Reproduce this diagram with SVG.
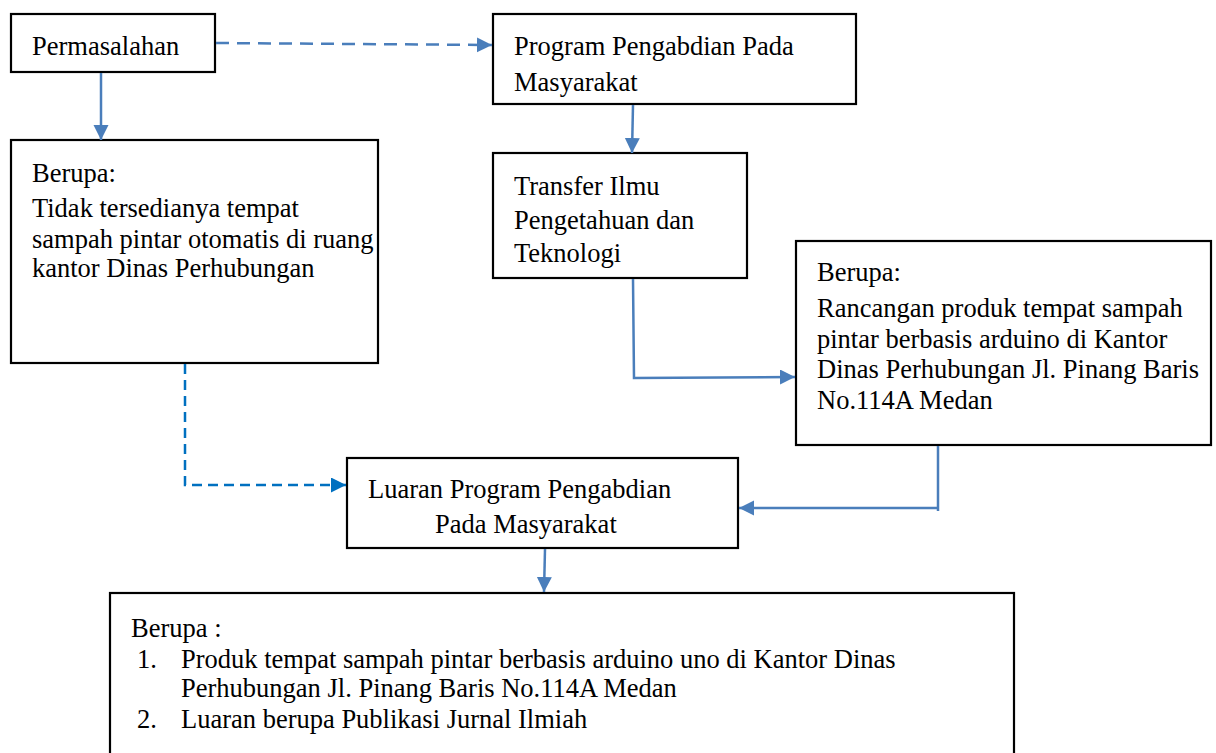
<svg xmlns="http://www.w3.org/2000/svg" width="1216" height="753" viewBox="0 0 1216 753">
<style>
.box{fill:#fff;stroke:#000;stroke-width:2.2}
.t{font-family:"Liberation Serif","Times New Roman",serif;font-size:26.5px;fill:#000}
.c{fill:none;stroke:#4A7EBB;stroke-width:2.5}
.d1{fill:none;stroke:#4A7EBB;stroke-width:2.5;stroke-dasharray:13 8}
.d2{fill:none;stroke:#0070C0;stroke-width:2.5;stroke-dasharray:10 6}
</style>
<defs>
<marker id="a" markerUnits="userSpaceOnUse" markerWidth="16" markerHeight="16" refX="15" refY="7.5" orient="auto"><path d="M0,0 L15,7.5 L0,15 Z" fill="#4A7EBB"/></marker>
<marker id="b" markerUnits="userSpaceOnUse" markerWidth="16" markerHeight="16" refX="15" refY="7.5" orient="auto"><path d="M0,0 L15,7.5 L0,15 Z" fill="#0070C0"/></marker>
</defs>
<rect width="1216" height="753" fill="#fff"/>
<g id="n1"><rect class="box" x="11" y="14" width="204" height="58"/><text class="t" x="32" y="55">Permasalahan</text></g>
<g id="n2"><rect class="box" x="493" y="14" width="363" height="90"/><text class="t" x="514" y="55">Program Pengabdian Pada</text><text class="t" x="514" y="91">Masyarakat</text></g>
<g id="n3"><rect class="box" x="11" y="140" width="367" height="223"/><text class="t" x="32" y="182">Berupa:</text><text class="t" x="32" y="217">Tidak tersedianya tempat</text><text class="t" x="32" y="248">sampah pintar otomatis di ruang</text><text class="t" x="32" y="277">kantor Dinas Perhubungan</text></g>
<g id="n4"><rect class="box" x="493" y="153" width="254" height="125"/><text class="t" x="514" y="195">Transfer Ilmu</text><text class="t" x="514" y="229">Pengetahuan dan</text><text class="t" x="514" y="262">Teknologi</text></g>
<g id="n5"><rect class="box" x="796" y="241" width="415" height="204"/><text class="t" x="817" y="281">Berupa:</text><text class="t" x="817" y="317">Rancangan produk tempat sampah</text><text class="t" x="817" y="348">pintar berbasis arduino di Kantor</text><text class="t" x="817" y="378">Dinas Perhubungan Jl. Pinang Baris</text><text class="t" x="817" y="409">No.114A Medan</text></g>
<g id="n6"><rect class="box" x="347" y="458" width="391" height="90"/><text class="t" x="368" y="498">Luaran Program Pengabdian</text><text class="t" x="435" y="533">Pada Masyarakat</text></g>
<g id="n7"><rect class="box" x="110" y="593" width="904" height="170"/><text class="t" x="131" y="637">Berupa :</text><text class="t" x="137" y="668">1.</text><text class="t" x="181" y="668">Produk tempat sampah pintar berbasis arduino uno di Kantor Dinas</text><text class="t" x="181" y="697">Perhubungan Jl. Pinang Baris No.114A Medan</text><text class="t" x="137" y="728">2.</text><text class="t" x="181" y="728">Luaran berupa Publikasi Jurnal Ilmiah</text></g>
<g id="connectors">
<path class="d1" d="M216,43 L492,45" marker-end="url(#a)"/>
<path class="c" d="M101,73 L101,140" marker-end="url(#a)"/>
<path class="c" d="M633,105 L632,153" marker-end="url(#a)"/>
<path class="c" d="M633,279 L634,378 L795,377" marker-end="url(#a)"/>
<path class="c" d="M938,446 L938,511"/>
<path class="c" d="M939,508 L739,508" marker-end="url(#a)"/>
<path class="c" d="M545,549 L544,592" marker-end="url(#a)"/>
<path class="d2" d="M185,364 L185,485 L346,485" marker-end="url(#b)"/>
</g>
</svg>
